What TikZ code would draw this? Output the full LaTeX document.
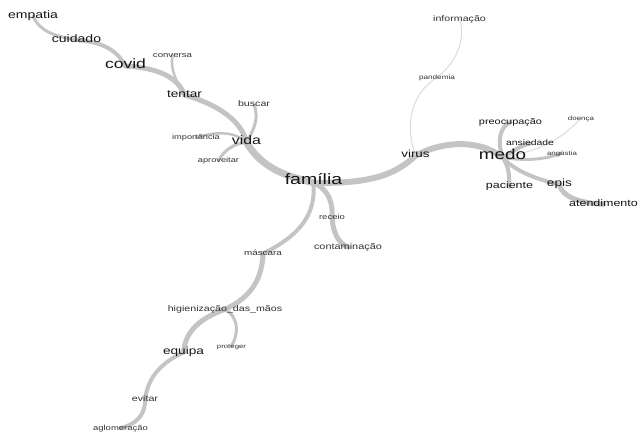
\documentclass[tikz,border=0pt]{standalone}
\usepackage{fontspec}
\usepackage{tikz}
\usetikzlibrary{backgrounds}
\newfontfamily\wordfont[FakeStretch=1.3]{Liberation Sans}
\definecolor{edge}{RGB}{196,196,196}
\definecolor{faint}{RGB}{216,216,216}
\definecolor{ink}{RGB}{20,20,20}
\definecolor{inklight}{RGB}{50,50,50}

\begin{document}
\begin{tikzpicture}[x=1pt,y=-1pt]
\tikzset{w/.style={font=\wordfont\fontsize{#1}{#1}\selectfont,anchor=mid,inner sep=0pt,text=ink},
  ws/.style={w=#1,text=inklight},
  e/.style={draw=edge,line width=#1,line cap=round},
  ethin/.style={draw=faint,line width=0.9pt}}
\useasboundingbox (0,0) rectangle (638,434);
\node[w=10.8] (empatia) at (33,16) {empatia};
\node[w=10.8] (cuidado) at (76.5,40) {cuidado};
\node[w=13.5] (covid) at (125.5,66) {covid};
\node[ws=7.4] (conversa) at (172.5,55) {conversa};
\node[w=10.5] (tentar) at (184.5,95) {tentar};
\node[ws=8.2] (buscar) at (254,104.7) {buscar};
\node[ws=7.1] (importancia) at (196,137.5) {importância};
\node[w=12.2] (vida) at (246.5,142.5) {vida};
\node[ws=7.1] (aproveitar) at (218.5,160.7) {aproveitar};
\node[w=15] (familia) at (313.5,182.7) {família};
\node[ws=7.3] (receio) at (332,217.7) {receio};
\node[ws=8.4] (contam) at (348,247.3) {contaminação};
\node[ws=7.6] (mascara) at (263,253.7) {máscara};
\node[ws=8.2] (higien) at (225,309.3) {higienização\_das\_mãos};
\node[ws=6] (proteger) at (231.5,346) {proteger};
\node[w=10.5] (equipa) at (183.5,352.3) {equipa};
\node[ws=8.2] (evitar) at (145,399.3) {evitar};
\node[ws=7.3] (aglom) at (120.5,428) {aglomeração};
\node[ws=8.2] (informacao) at (459.5,19) {informação};
\node[ws=6.3] (pandemia) at (437,77.3) {pandemia};
\node[w=10.3] (virus) at (415.5,155.7) {virus};
\node[w=14.5] (medo) at (502.5,157.3) {medo};
\node[w=8.4] (preocup) at (510.5,122) {preocupação};
\node[ws=6.1] (doenca) at (581,118) {doença};
\node[w=8] (ansiedade) at (530,143.7) {ansiedade};
\node[ws=6.1] (angustia) at (562,153) {angústia};
\node[w=9.6] (paciente) at (509.5,186.7) {paciente};
\node[w=10.5] (epis) at (559.5,184.7) {epis};
\node[w=9.6] (atend) at (603.5,204.3) {atendimento};
\begin{scope}[on background layer]
\draw[e=3pt] (empatia.mid) .. controls (40,32) and (55,36) .. (cuidado.mid);
\draw[e=4pt] (cuidado.mid) .. controls (105,42) and (118,52) .. (covid.mid);
\draw[e=5pt] (covid.mid) .. controls (160,68) and (178,78) .. (tentar.mid);
\draw[e=2.5pt] (conversa.mid) .. controls (170,70) and (176,80) .. (tentar.mid);
\draw[e=5pt] (tentar.mid) .. controls (220,105) and (242,122) .. (vida.mid);
\draw[e=3pt] (buscar.mid) .. controls (260,120) and (252,132) .. (vida.mid);
\draw[e=2.5pt] (importancia.mid) .. controls (220,130) and (237,133) .. (vida.mid);
\draw[e=3pt] (aproveitar.mid) .. controls (224,150) and (235,143) .. (vida.mid);
\draw[e=7pt] (vida.mid) .. controls (262,168) and (285,176) .. (familia.mid);
\draw[e=6pt] (familia.mid) .. controls (370,184) and (395,175) .. (virus.mid);
\draw[e=6pt] (virus.mid) .. controls (445,140) and (480,140) .. (medo.mid);
\draw[ethin] (virus.mid) .. controls (405,125) and (410,95) .. (pandemia.mid);
\draw[ethin] (pandemia.mid) .. controls (460,60) and (465,35) .. (informacao.mid);
\draw[e=4pt] (medo.mid) .. controls (497,140) and (500,127) .. (preocup.mid);
\draw[e=4pt] (medo.mid) .. controls (515,150) and (522,145) .. (ansiedade.mid);
\draw[ethin] (medo.mid) .. controls (550,150) and (570,130) .. (doenca.mid);
\draw[e=3pt] (medo.mid) .. controls (530,162) and (550,158) .. (angustia.mid);
\draw[e=4pt] (medo.mid) .. controls (510,168) and (509,178) .. (paciente.mid);
\draw[e=4pt] (medo.mid) .. controls (515,172) and (540,180) .. (epis.mid);
\draw[e=5pt] (epis.mid) .. controls (562,197) and (580,203) .. (atend.mid);
\draw[e=5pt] (familia.mid) .. controls (330,190) and (333,205) .. (receio.mid);
\draw[e=5pt] (receio.mid) .. controls (333,232) and (338,243) .. (contam.mid);
\draw[e=4pt] (familia.mid) .. controls (316,215) and (300,235) .. (mascara.mid);
\draw[e=5pt] (mascara.mid) .. controls (262,285) and (245,300) .. (higien.mid);
\draw[e=5pt] (higien.mid) .. controls (195,320) and (185,335) .. (equipa.mid);
\draw[e=3pt] (higien.mid) .. controls (240,318) and (238,335) .. (proteger.mid);
\draw[e=4pt] (equipa.mid) .. controls (157,365) and (148,380) .. (evitar.mid);
\draw[e=4pt] (evitar.mid) .. controls (146,415) and (135,425) .. (aglom.mid);
\end{scope}
\end{tikzpicture}
\end{document}
